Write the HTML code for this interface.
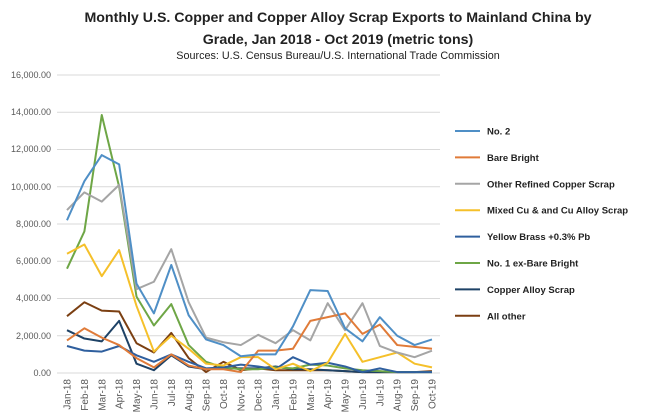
<!DOCTYPE html>
<html><head><meta charset="utf-8"><style>
body{margin:0;background:#fff;}
svg{display:block;font-family:"Liberation Sans",sans-serif;}
.t{font-weight:bold;font-size:14.2px;fill:#222;}
.yl{font-size:9px;fill:#595959;}
.lg{font-size:9.5px;font-weight:bold;fill:#222;}
</style></head><body>
<svg id="c" width="650" height="419" viewBox="0 0 650 419">
<text class="t" x="338" y="22" text-anchor="middle">Monthly U.S. Copper and Copper Alloy Scrap Exports to Mainland China by</text>
<text class="t" x="338" y="44" text-anchor="middle">Grade, Jan 2018 - Oct 2019 (metric tons)</text>
<text x="338" y="59" text-anchor="middle" font-size="10.8" fill="#222">Sources: U.S. Census Bureau/U.S. International Trade Commission</text>
<g stroke="#d9d9d9" stroke-width="1">
<line x1="57" x2="440" y1="75" y2="75"/><line x1="57" x2="440" y1="112.25" y2="112.25"/>
<line x1="57" x2="440" y1="149.5" y2="149.5"/><line x1="57" x2="440" y1="186.75" y2="186.75"/>
<line x1="57" x2="440" y1="224" y2="224"/><line x1="57" x2="440" y1="261.25" y2="261.25"/>
<line x1="57" x2="440" y1="298.5" y2="298.5"/><line x1="57" x2="440" y1="335.75" y2="335.75"/>
<line x1="57" x2="440" y1="373" y2="373"/>
</g>
<g class="yl" text-anchor="end">
<text x="51" y="78">16,000.00</text><text x="51" y="115">14,000.00</text><text x="51" y="152">12,000.00</text>
<text x="51" y="190">10,000.00</text><text x="51" y="227">8,000.00</text><text x="51" y="264">6,000.00</text>
<text x="51" y="301">4,000.00</text><text x="51" y="339">2,000.00</text><text x="51" y="376">0.00</text>
</g>
<g id="lines" fill="none" stroke-width="2" stroke-linejoin="round"></g>
<g id="leg"></g>
</svg>
<script>
var S=[
["No. 2","#4f8fc6",[8.2,10.3,11.7,11.2,4.8,3.2,5.8,3.1,1.8,1.5,0.9,1.0,1.0,2.5,4.45,4.4,2.4,1.7,3.0,2.0,1.5,1.8]],
["Bare Bright","#e07b39",[1.75,2.4,1.9,1.5,0.8,0.3,1.0,0.4,0.2,0.2,0.05,1.2,1.2,1.3,2.8,3.0,3.2,2.1,2.6,1.5,1.4,1.3]],
["Other Refined Copper Scrap","#a5a5a5",[8.75,9.7,9.2,10.1,4.5,4.9,6.65,3.8,1.9,1.65,1.5,2.05,1.6,2.3,1.75,3.75,2.3,3.75,1.45,1.1,0.85,1.2]],
["Mixed Cu & and Cu Alloy Scrap","#f5c02a",[6.4,6.9,5.2,6.6,3.6,1.15,2.0,1.3,0.5,0.4,0.85,0.85,0.2,0.5,0.1,0.55,2.1,0.6,0.85,1.1,0.5,0.3]],
["Yellow Brass +0.3% Pb","#2f5f9e",[1.45,1.2,1.15,1.45,0.95,0.6,1.0,0.6,0.25,0.3,0.45,0.35,0.2,0.85,0.45,0.55,0.35,0.05,0.25,0.05,0.05,0.05]],
["No. 1 ex-Bare Bright","#6ea646",[5.6,7.6,13.85,10.0,4.1,2.55,3.7,1.5,0.6,0.3,0.2,0.2,0.3,0.25,0.45,0.4,0.25,0.15,0.1,0.05,0.05,0.05]],
["Copper Alloy Scrap","#1e4266",[2.3,1.85,1.7,2.8,0.5,0.15,0.95,0.35,0.2,0.25,0.25,0.25,0.35,0.2,0.2,0.15,0.1,0.05,0.05,0.05,0.05,0.05]],
["All other","#7b3f12",[3.05,3.8,3.35,3.3,1.6,1.1,2.15,0.8,0.05,0.6,0.15,0.25,0.15,0.15,0.15,0.15,0.1,0.05,0.05,0.05,0.05,0.1]]];
var ns="http://www.w3.org/2000/svg";
function X(i){return 67+i*17.38}
function Y(v){return 373-v*18.625}
var L=document.getElementById("lines"),G=document.getElementById("leg");
S.slice().reverse().forEach(function(s){var p=document.createElementNS(ns,"polyline");
p.setAttribute("points",s[2].map(function(v,i){return X(i)+","+Y(v)}).join(" "));p.setAttribute("stroke",s[1]);L.appendChild(p);});
S.forEach(function(s,k){var y=131+k*26.4;var l=document.createElementNS(ns,"line");
l.setAttribute("x1",455);l.setAttribute("x2",480);l.setAttribute("y1",y);l.setAttribute("y2",y);l.setAttribute("stroke",s[1]);l.setAttribute("stroke-width",2);G.appendChild(l);
var t=document.createElementNS(ns,"text");t.setAttribute("x",487);t.setAttribute("y",y+3.5);t.setAttribute("class","lg");t.textContent=s[0];G.appendChild(t);});
</script>
<svg style="position:absolute;left:0;top:0" width="650" height="419"><g font-family="Liberation Sans,sans-serif" font-size="10" fill="#595959" text-anchor="end">
<text transform="translate(70.5,379) rotate(-90)">Jan-18</text>
<text transform="translate(87.9,379) rotate(-90)">Feb-18</text>
<text transform="translate(105.3,379) rotate(-90)">Mar-18</text>
<text transform="translate(122.6,379) rotate(-90)">Apr-18</text>
<text transform="translate(140,379) rotate(-90)">May-18</text>
<text transform="translate(157.4,379) rotate(-90)">Jun-18</text>
<text transform="translate(174.8,379) rotate(-90)">Jul-18</text>
<text transform="translate(192.2,379) rotate(-90)">Aug-18</text>
<text transform="translate(209.5,379) rotate(-90)">Sep-18</text>
<text transform="translate(226.9,379) rotate(-90)">Oct-18</text>
<text transform="translate(244.3,379) rotate(-90)">Nov-18</text>
<text transform="translate(261.7,379) rotate(-90)">Dec-18</text>
<text transform="translate(279.1,379) rotate(-90)">Jan-19</text>
<text transform="translate(296.4,379) rotate(-90)">Feb-19</text>
<text transform="translate(313.8,379) rotate(-90)">Mar-19</text>
<text transform="translate(331.2,379) rotate(-90)">Apr-19</text>
<text transform="translate(348.6,379) rotate(-90)">May-19</text>
<text transform="translate(366,379) rotate(-90)">Jun-19</text>
<text transform="translate(383.3,379) rotate(-90)">Jul-19</text>
<text transform="translate(400.7,379) rotate(-90)">Aug-19</text>
<text transform="translate(418.1,379) rotate(-90)">Sep-19</text>
<text transform="translate(435.5,379) rotate(-90)">Oct-19</text>
</g></svg>
</body></html>
